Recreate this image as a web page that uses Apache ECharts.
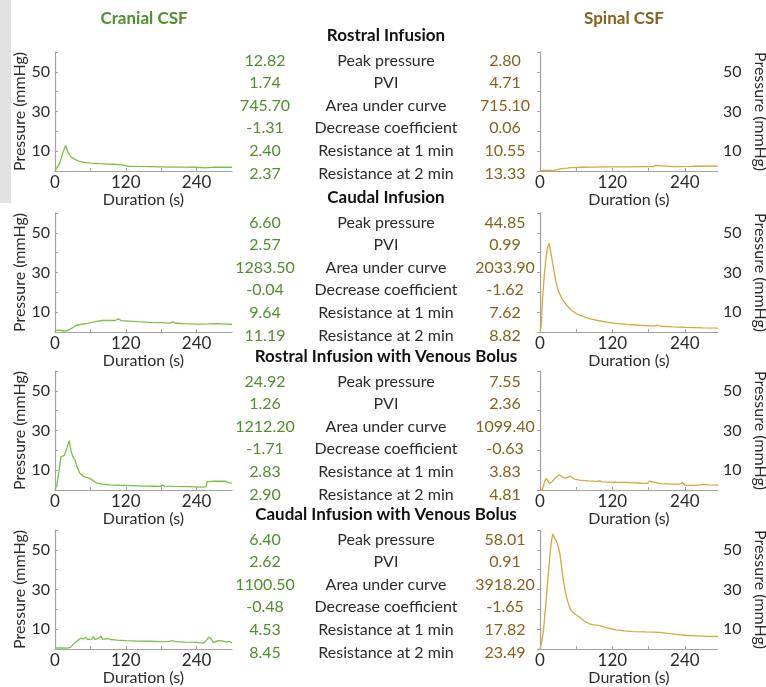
<!DOCTYPE html>
<html>
<head>
<meta charset="utf-8">
<script src="https://cdn.jsdelivr.net/npm/echarts@6/dist/echarts.min.js"></script>
<style>
  html, body { margin: 0; padding: 0; background: #ffffff; }
  #chart { width: 766px; height: 687px; }
</style>
</head>
<body>
<div id="chart"></div>
<script>
// Pressure traces, [time (s), pressure (mmHg)]
const cranialRostral = [[0,0],[3,0.2],[8,4],[13,9],[18,12.82],[22,9.5],[27,7.2],[33,6.0],[40,5.0],[50,4.3],[60,4.0],[75,3.7],[90,3.5],[100,3.4],[110,3.2],[118,2.8],[125,2.4],[140,2.3],[160,2.2],[180,2.1],[200,2.0],[220,2.0],[240,1.9],[255,1.6],[258,1.9],[270,2.0],[285,1.9],[300,1.9]];
const spinalRostral = [[0,0.3],[3,1.2],[5,0.3],[15,0.3],[25,0.4],[35,1.2],[45,1.5],[50,1.7],[53,2.6],[56,1.7],[70,1.9],[90,2.0],[110,2.1],[130,2.1],[140,2.1],[143,2.7],[146,2.1],[170,2.2],[188,2.2],[192,2.8],[195,2.2],[220,2.2],[250,2.3],[255,2.5],[258,2.8],[262,2.4],[280,2.4],[295,2.5]];
const cranialCaudal = [[0,0.8],[8,0.9],[14,0.5],[20,0.6],[28,1.8],[36,3.4],[45,3.9],[55,4.3],[62,4.8],[70,5.4],[80,5.8],[92,5.9],[102,5.8],[108,6.6],[112,5.7],[125,5.5],[140,5.2],[160,4.9],[180,4.7],[195,4.5],[200,5.2],[204,4.4],[220,4.2],[240,4.0],[260,4.1],[275,4.2],[290,4.0],[300,3.9]];
const spinalCaudal = [[0,0.5],[2,3],[4,16],[8,32],[12,42],[15,44.85],[18,40],[22,32.8],[26,26],[30,21],[37,16.5],[44,13.5],[52,11],[60,9.3],[70,8],[82,6.8],[95,5.9],[105,5.3],[108,5.6],[112,5.0],[125,4.4],[143,3.8],[165,3.4],[190,3.0],[195,3.5],[200,2.9],[220,2.6],[242,2.3],[270,2.1],[295,2.0]];
const cranialRostralVB = [[0,0],[3,2],[7,10],[10,16.7],[13,16.3],[16,17.5],[20,21],[24,24.92],[27,20],[30,17],[34,15.2],[37,12],[42,8.5],[48,7.0],[53,6.4],[55,7.0],[58,6.0],[65,4.6],[71,3.5],[80,3.0],[93,2.6],[110,2.4],[130,2.2],[150,2.0],[170,1.9],[178,1.8],[182,2.5],[186,2.0],[200,1.8],[225,1.7],[250,1.5],[256,1.6],[258,4.2],[270,4.4],[285,4.5],[290,4.4],[294,3.7],[300,3.5]];
const spinalRostralVB = [[0,0],[4,0.2],[7,3.5],[10,5.9],[13,4.6],[16,3.4],[20,4.2],[26,6.2],[32,7.55],[36,6.8],[41,6.0],[45,6.3],[49,7.0],[52,6.0],[58,5.4],[66,5.0],[80,4.6],[95,4.3],[99,4.6],[103,4.1],[125,3.9],[150,3.7],[170,3.4],[178,3.3],[181,4.5],[184,3.5],[200,3.2],[220,3.0],[232,3.0],[236,3.8],[240,2.4],[255,2.3],[265,2.6],[270,2.8],[280,2.6],[295,2.5]];
const cranialCaudalVB = [[0,0.5],[10,0.5],[20,0.4],[26,0.8],[32,2.6],[38,4.2],[44,5.5],[48,5.0],[52,5.9],[55,4.8],[58,5.8],[62,5.0],[65,6.3],[68,4.9],[72,5.2],[75,4.6],[78,6.4],[81,4.8],[84,4.3],[88,5.2],[91,6.0],[95,4.8],[105,4.5],[120,4.2],[140,4.0],[160,3.9],[180,3.7],[195,3.8],[199,4.3],[203,3.7],[220,3.5],[240,3.3],[252,3.0],[256,4.2],[261,6.1],[265,5.2],[268,3.3],[272,3.6],[276,4.2],[284,4.1],[290,3.5],[295,3.8],[300,3.2]];
const spinalCaudalVB = [[0,0],[3,4],[6,10],[10,24],[14,39],[18,52],[21,58.01],[24,56],[27,54.5],[30,52],[33,47.8],[36,41],[38,36],[41,30.5],[44,26],[48,22],[52,19.3],[58,17.5],[66,16],[74,14],[82,12.6],[90,12.2],[99,11.8],[112,10.6],[126,9.6],[140,9.1],[154,8.8],[175,8.6],[198,8.4],[215,7.7],[230,7.2],[242,6.8],[260,6.6],[280,6.4],[295,6.3]];

// Summary metrics shown between the two columns
const conditions = ['Rostral Infusion', 'Caudal Infusion', 'Rostral Infusion with Venous Bolus', 'Caudal Infusion with Venous Bolus'];
const metricNames = ['Peak pressure', 'PVI', 'Area under curve', 'Decrease coefficient', 'Resistance at 1 min', 'Resistance at 2 min'];
const cranialStats = [
  ['12.82', '1.74', '745.70', '-1.31', '2.40', '2.37'],
  ['6.60', '2.57', '1283.50', '-0.04', '9.64', '11.19'],
  ['24.92', '1.26', '1212.20', '-1.71', '2.83', '2.90'],
  ['6.40', '2.62', '1100.50', '-0.48', '4.53', '8.45']
];
const spinalStats = [
  ['2.80', '4.71', '715.10', '0.06', '10.55', '13.33'],
  ['44.85', '0.99', '2033.90', '-1.62', '7.62', '8.82'],
  ['7.55', '2.36', '1099.40', '-0.63', '3.83', '4.81'],
  ['58.01', '0.91', '3918.20', '-1.65', '17.82', '23.49']
];

const cranialSeries = [cranialRostral, cranialCaudal, cranialRostralVB, cranialCaudalVB];
const spinalSeries = [spinalRostral, spinalCaudal, spinalRostralVB, spinalCaudalVB];

const FONT = 'Lato, "Open Sans", sans-serif';
const GREEN_TEXT = '#4f8f2c';
const BROWN_TEXT = '#86621c';
const GREEN_LINE = '#7cc143';
const BROWN_LINE = '#d7a83a';
const AXIS_GREY = '#a3a3a3';
const LABEL_DARK = '#2b2b2b';

const rowBottoms = [171, 332, 490, 649];
const plotHeight = 119;
const sectionTitleY = [36, 198, 357, 515];

const grids = [], xAxes = [], yAxes = [], series = [];

function addPanel(data, side, row) {
  const idx = grids.length;
  const isLeft = side === 'left';
  grids.push({
    left: isLeft ? 55 : 540,
    width: isLeft ? 177 : 178,
    top: rowBottoms[row] - plotHeight,
    height: plotHeight,
    containLabel: false,
    outerBoundsMode: 'none'
  });
  xAxes.push({
    type: 'value',
    gridIndex: idx,
    min: 0,
    max: isLeft ? 300 : 295,
    interval: 60,
    name: 'Duration (s)',
    nameLocation: 'middle',
    nameGap: 19,
    nameTextStyle: { fontFamily: FONT, fontSize: 16, color: LABEL_DARK },
    axisLine: { lineStyle: { color: AXIS_GREY, width: 1.2 } },
    axisTick: { show: true, inside: true, length: 3, lineStyle: { color: AXIS_GREY } },
    splitLine: { show: false },
    axisLabel: {
      fontFamily: FONT, fontSize: 17, color: LABEL_DARK, margin: 3,
      showMaxLabel: false,
      formatter: v => (v % 120 === 0 ? String(v) : '')
    }
  });
  yAxes.push({
    type: 'value',
    gridIndex: idx,
    position: isLeft ? 'left' : 'right',
    min: 0,
    max: 60,
    interval: 10,
    name: 'Pressure (mmHg)',
    nameLocation: 'middle',
    nameRotate: isLeft ? 90 : -90,
    nameGap: isLeft ? 27 : 34,
    nameTextStyle: { fontFamily: FONT, fontSize: 16, color: LABEL_DARK },
    axisLine: { show: true, lineStyle: { color: AXIS_GREY, width: 1.2 } },
    axisTick: { show: true, inside: true, length: 3, lineStyle: { color: AXIS_GREY } },
    splitLine: { show: false },
    axisLabel: {
      fontFamily: FONT, fontSize: 16, color: LABEL_DARK, margin: 5,
      formatter: v => (v % 20 === 10 ? String(v) : '')
    }
  });
  series.push({
    type: 'line',
    xAxisIndex: idx,
    yAxisIndex: idx,
    data: data,
    showSymbol: false,
    symbol: 'none',
    smooth: false,
    lineStyle: { color: isLeft ? GREEN_LINE : BROWN_LINE, width: 1.3 },
    silent: true
  });
}

for (let r = 0; r < 4; r++) {
  addPanel(cranialSeries[r], 'left', r);
  addPanel(spinalSeries[r], 'right', r);
}

// Column headers, section titles and the metrics table
const graphics = [
  { type: 'rect', left: 0, top: 0, shape: { width: 11, height: 203 }, style: { fill: '#e2e2e2' }, z: -1 },
  { type: 'text', x: 144, y: 19, style: { text: 'Cranial CSF', fill: GREEN_TEXT, font: 'bold 17px ' + FONT, textAlign: 'center', textVerticalAlign: 'middle' } },
  { type: 'text', x: 624, y: 19, style: { text: 'Spinal CSF', fill: BROWN_TEXT, font: 'bold 17px ' + FONT, textAlign: 'center', textVerticalAlign: 'middle' } }
];

for (let r = 0; r < 4; r++) {
  graphics.push({ type: 'text', x: 386, y: sectionTitleY[r], style: { text: conditions[r], fill: '#111111', font: 'bold 17px ' + FONT, textAlign: 'center', textVerticalAlign: 'middle' } });
  for (let m = 0; m < metricNames.length; m++) {
    const y = sectionTitleY[r] + 24.5 + m * 22.6;
    graphics.push({ type: 'text', x: 265, y: y, style: { text: cranialStats[r][m], fill: GREEN_TEXT, font: '16px ' + FONT, textAlign: 'center', textVerticalAlign: 'middle' } });
    graphics.push({ type: 'text', x: 386, y: y, style: { text: metricNames[m], fill: LABEL_DARK, font: '16px ' + FONT, textAlign: 'center', textVerticalAlign: 'middle' } });
    graphics.push({ type: 'text', x: 505, y: y, style: { text: spinalStats[r][m], fill: BROWN_TEXT, font: '16px ' + FONT, textAlign: 'center', textVerticalAlign: 'middle' } });
  }
}

const chart = echarts.init(document.getElementById('chart'), null, { renderer: 'canvas' });
chart.setOption({
  backgroundColor: '#ffffff',
  animation: false,
  grid: grids,
  xAxis: xAxes,
  yAxis: yAxes,
  series: series,
  graphic: graphics
});
</script>
</body>
</html>
